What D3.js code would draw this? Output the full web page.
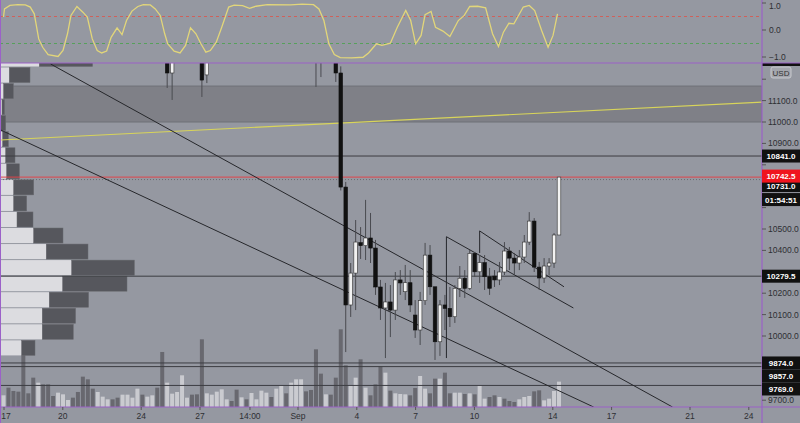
<!DOCTYPE html>
<html><head><meta charset="utf-8">
<script src="https://cdn.jsdelivr.net/npm/d3@7"></script>
<style>body{margin:0;background:#9598a1}svg{display:block;font-family:"Liberation Sans",Arial,sans-serif}</style>
</head><body><svg id="c" width="800" height="423"></svg>
<script>
// ---------- DATA ----------
const candleIdx = [33,34,40,41,63,64,67,68,69,70,71,72,73,74,75,76,77,78,79,80,81,82,83,84,85,86,87,88,89,90,91,92,93,94,95,96,97,98,99,100,101,102,103,104,105,106,107,108,109,110,111,112];
const candleOpen  = [11400,11229,11400,11220,11400,11400,11400,11229,10696,10145,10294,10436,10422,10458,10411,10229,10131,10159,10121,10262,10207,10249,10098,10028,10165,10378,10230,9973,10145,10129,10090,10223,10270,10223,10386,10300,10343,10277,10280,10262,10299,10397,10364,10341,10369,10439,10537,10322,10271,10327,10341,10472];
const candleClose = [11229,11400,11196,11400,11350,11350,11229,10696,10145,10294,10439,10422,10458,10411,10229,10131,10159,10121,10262,10248,10249,10145,10028,10165,10378,10230,9973,10145,10129,10090,10223,10270,10223,10386,10300,10343,10277,10223,10262,10299,10397,10364,10341,10369,10439,10537,10322,10271,10327,10341,10472,10742.5];
const candleHigh  = [11450,11450,11450,11450,11450,11450,11450,11260,10720,10341,10542,10509,10636,10575,10449,10262,10248,10238,10299,10308,10332,10308,10168,10206,10435,10425,10215,10168,10192,10229,10238,10327,10308,10402,10393,10378,10378,10318,10308,10346,10439,10416,10388,10402,10472,10579,10551,10346,10364,10364,10481,10743];
const candleLow   = [11159,11103,11117,11182,11164,11210,11187,10680,9925,10089,10121,10360,10355,10341,10192,10075,9897,9995,10075,10192,10168,10112,9991,9958,10145,10192,9888,9907,10028,10042,10061,10182,10178,10215,10276,10248,10215,10192,10229,10238,10285,10308,10285,10308,10341,10425,10299,10215,10248,10285,10318,10472];
const volTop = [198,175,185,187,75,192,145,160,165,165,200,190,195,212,205,188,142,150,178,188,202,210,210,205,196,196,205,178,196,202,198,175,68,160,193,188,138,205,196,195,30,192,196,187,180,210,215,181,204,210,191,210,184,190,203,178,170,192,160,150,150,186,182,60,133,195,196,145,0,108,168,145,90,175,198,165,112,130,184,192,194,195,198,176,140,178,192,148,148,130,192,190,190,194,192,195,170,208,203,198,203,208,215,218,210,203,200,186,183,213,208,185,157];
const volDir = "UDDDDDDUDDDUUUDDDDDUUUDDUUUUDUUDDUUUUUDDDUUUUUDDUDUUUUDUUDUUUDDDDUDDDDUUDUDDDUDUUUDDUUDDUDDUUDUDUUDDUDDDUUUDDUUUU";
const oscIdx = [0,0.2,1.3,2.9,4.4,5.4,6.2,7.1,7.9,9,11,12,12.9,13.6,14.8,16,16.9,17.9,18.9,19.8,20.8,21.7,22.9,23.9,24.8,25.9,27.1,28.2,29.6,30.6,31.6,32.5,33.1,34.4,35.6,36.7,37.7,38.8,39.8,40.8,41.7,42.9,44,45.4,46.5,48.2,49.6,50.9,53.2,57.9,60.2,62.5,63.6,64.6,65.6,66.7,67.9,70.2,72.5,73.6,75.2,76.3,78,79.4,81.1,82.1,83.1,84.2,85,86.2,87.1,88.6,90,91.7,92.9,94,95.6,97.2,98.6,99.8,100.8,101.9,102.9,104.8,106,107.1,108.5,109.8,110.8,111.7];
const oscVal = [0.48,0.78,0.91,0.94,0.93,0.85,0.6,-0.33,-0.64,-0.91,-0.98,-0.76,-0.14,0.54,0.87,0.66,0.48,-0.33,-0.76,-0.85,-0.78,-0.27,0.08,-0.17,0.35,0.7,0.87,0.94,0.93,0.78,0.54,-0.14,-0.51,-0.78,-0.85,-0.57,0.08,-0.14,-0.51,-0.82,-0.76,-0.45,0.1,0.85,0.92,0.9,0.8,0.88,0.94,0.93,0.96,0.94,0.78,0.35,-0.51,-0.91,-1.02,-1.03,-1.01,-0.85,-0.51,-0.57,-0.49,0.1,0.72,0.35,-0.51,-0.2,0.57,0.69,0.1,-0.04,-0.24,0.35,0.54,0.87,0.88,0.82,-0.14,-0.61,-0.08,0.25,0.23,0.85,0.91,0.72,-0.02,-0.64,-0.2,0.6];
const profLow = [9907,9982,10057,10132,10207,10282,10357,10432,10507,10582,10657,10732,10807,10882,10957,11032,11107,11182,11257];
const profUp  = [20.7,41.3,41.3,48.3,61.7,70.7,45.3,32.7,16,12.7,12.7,5.7,4.7,1.7,0,1,2.7,8.3,38.3];
const profDn  = [13.3,31,33.3,39.3,64.3,62.7,41.7,29.3,16,13,20,12.7,9.3,5.7,4.7,2.5,9.7,20.7,53.3];
const levels = [10841,10279.5,9874,9857,9769];
const levelLabels = ["10841.0","10279.5","9874.0","9857.0","9769.0"];
const lastPrice = 10742.5, prevClose = 10731, countdown = "01:54:51";
const zoneLow = 11000, zoneHigh = 11168;
const trendLines = [
 [[9.5,11271],[134.9,9668]],
 [[-0.6,10963],[119,9668]],
 [[89.3,10464],[114.9,10131]],
 [[89.3,10464],[89.3,9897]],
 [[96,10491],[113,10230]],
 [[96,10491],[96,10388]]
];
const yellowLine = [[-0.6,10916],[153,11093]];
const priceTicks = [11200,11100,11000,10900,10800,10700,10600,10500,10400,10300,10200,10100,10000,9900,9800,9700];
const oscTicks = [1,0,-1];
const dayTickPos = [0,3,7,10,12.55,15,18,21,24,28,31,35,38];
const dayTickLab = ["17","20","24","27","14:00","Sep","4","7","10","14","17","21","24"];

// ---------- SCALES ----------
const svg = d3.select("#c");
const W = 762, pTop = 63, pBot = 407;
const x = d3.scaleLinear().domain([0,112]).range([3.5,559]);
const xDay = d3.scaleLinear().domain([0,38]).range([4,748.8]);
const y = d3.scaleLinear().domain([11000,9700]).range([122,400.2]);
const yo = d3.scaleLinear().domain([1,-1]).range([3,57]);
const yv = d3.scaleLinear().domain([0,233]).range([pBot,pBot-77.7]);
const xp = d3.scaleLinear().domain([0,100]).range([1,101]);

svg.append("rect").attr("width",800).attr("height",423).attr("fill","#9598a1");
svg.append("clipPath").attr("id","pc").append("rect").attr("x",0).attr("y",pTop).attr("width",W).attr("height",pBot-pTop);
svg.append("clipPath").attr("id","oc").append("rect").attr("x",0).attr("y",0).attr("width",W).attr("height",pTop);

const og = svg.append("g").attr("clip-path","url(#oc)");
og.append("line").attr("x1",0).attr("x2",W).attr("y1",yo(0.5)).attr("y2",yo(0.5)).attr("stroke","#d0605a").attr("stroke-dasharray","3,3");
og.append("line").attr("x1",0).attr("x2",W).attr("y1",yo(-0.5)).attr("y2",yo(-0.5)).attr("stroke","#56a05a").attr("stroke-dasharray","3,3");
og.append("path").attr("d",d3.line().x((d,i)=>x(oscIdx[i])).y(d=>yo(d))(oscVal)).attr("fill","none").attr("stroke","#e2d67a").attr("stroke-width",1.3);

const pg = svg.append("g").attr("clip-path","url(#pc)");
pg.append("rect").attr("x",0).attr("width",W).attr("y",y(zoneHigh)).attr("height",y(zoneLow)-y(zoneHigh)).attr("fill","#7f8087").attr("stroke","#6f7077");
pg.selectAll(".v").data(volTop).join("rect").attr("x",(d,i)=>x(i)-2).attr("width",4)
 .attr("y",d=>yv(233-d)).attr("height",d=>pBot-yv(233-d))
 .attr("fill",(d,i)=>volDir[i]==="U"?"#d4d4d8":"#5c5d63").attr("opacity",(d,i)=>volDir[i]==="U"?0.85:0.8);
pg.selectAll(".pu").data(profUp).join("rect").attr("x",1).attr("y",(d,i)=>y(profLow[i]+75)+0.5)
 .attr("width",d=>xp(d)-1).attr("height",(d,i)=>y(profLow[i])-y(profLow[i]+75)-1).attr("fill","#dcdce0");
pg.selectAll(".pd").data(profDn).join("rect").attr("x",(d,i)=>xp(profUp[i])).attr("y",(d,i)=>y(profLow[i]+75)+0.5)
 .attr("width",d=>xp(d)-1).attr("height",(d,i)=>y(profLow[i])-y(profLow[i]+75)-1).attr("fill","#56575d").attr("stroke","#6a6b70").attr("stroke-width",0.5);
levels.forEach(l=>pg.append("line").attr("x1",0).attr("x2",W).attr("y1",y(l)).attr("y2",y(l)).attr("stroke","#3c3d42").attr("stroke-width",1));
pg.append("line").attr("x1",0).attr("x2",W).attr("y1",y(prevClose)).attr("y2",y(prevClose)).attr("stroke","#6a6b70").attr("stroke-dasharray","1,2");
pg.append("line").attr("x1",0).attr("x2",W).attr("y1",y(lastPrice)).attr("y2",y(lastPrice)).attr("stroke","#e0454a").attr("stroke-width",1);
pg.append("line").attr("x1",x(yellowLine[0][0])).attr("y1",y(yellowLine[0][1])).attr("x2",x(yellowLine[1][0])).attr("y2",y(yellowLine[1][1])).attr("stroke","#d8d45a").attr("stroke-width",1.2);
trendLines.forEach(t=>pg.append("line").attr("x1",x(t[0][0])).attr("y1",y(t[0][1])).attr("x2",x(t[1][0])).attr("y2",y(t[1][1])).attr("stroke","#26272b").attr("stroke-width",1));
const cg = pg.append("g");
candleIdx.forEach((ix,i)=>{
  const o=candleOpen[i], c=candleClose[i], up=c>=o;
  cg.append("line").attr("x1",x(ix)).attr("x2",x(ix)).attr("y1",y(candleHigh[i])).attr("y2",y(candleLow[i])).attr("stroke","#4a4b50").attr("stroke-width",1);
  cg.append("rect").attr("x",x(ix)-1.8).attr("width",3.6).attr("y",y(Math.max(o,c))).attr("height",Math.max(1,Math.abs(y(o)-y(c))))
    .attr("fill",up?"#f2f2f2":"#111").attr("stroke",up?"#333":"#111").attr("stroke-width",0.6);
});

svg.append("rect").attr("x",W).attr("y",pTop).attr("width",38).attr("height",3).attr("fill","#111");
svg.append("line").attr("x1",0).attr("x2",800).attr("y1",pTop).attr("y2",pTop).attr("stroke","#9b61c8").attr("stroke-width",1.2);
svg.append("line").attr("x1",0).attr("x2",800).attr("y1",pBot).attr("y2",pBot).attr("stroke","#9b61c8").attr("stroke-width",1.2);
svg.append("line").attr("x1",W).attr("x2",W).attr("y1",0).attr("y2",423).attr("stroke","#9b61c8").attr("stroke-width",1.2);
svg.append("line").attr("x1",0.5).attr("x2",0.5).attr("y1",0).attr("y2",423).attr("stroke","#9b61c8").attr("stroke-width",1);

const boxYs = levels.map(l=>y(l)).concat([y(prevClose)+6,y(lastPrice),y(prevClose)+20,72]);
const ax = svg.append("g").attr("font-size",8.5).attr("fill","#2e2f33");
oscTicks.forEach(t=>{
  ax.append("line").attr("x1",W).attr("x2",W+4).attr("y1",yo(t)).attr("y2",yo(t)).attr("stroke","#555");
  ax.append("text").attr("x",W+7).attr("y",Math.max(yo(t)+3,9)).text(d3.format(".1f")(t).replace("-","−"));
});
priceTicks.forEach(t=>{
  if (y(t) < pTop+4) return;
  ax.append("line").attr("x1",W).attr("x2",W+4).attr("y1",y(t)).attr("y2",y(t)).attr("stroke","#555");
  if (boxYs.some(b=>Math.abs(b-y(t))<11)) return;
  ax.append("text").attr("x",W+6).attr("y",y(t)+3).text(d3.format(".1f")(t));
});
dayTickPos.forEach((d,i)=>{
  ax.append("line").attr("x1",xDay(d)).attr("x2",xDay(d)).attr("y1",pBot).attr("y2",pBot+3).attr("stroke","#555");
  ax.append("text").attr("x",Math.max(xDay(d),6)).attr("y",419).attr("text-anchor","middle").text(dayTickLab[i]);
});
svg.append("rect").attr("x",771).attr("y",67).attr("width",20).attr("height",11).attr("rx",2).attr("fill","#a4a6ad").attr("stroke","#c8c9ce");
svg.append("text").attr("x",781).attr("y",75.5).attr("text-anchor","middle").attr("font-size",8).attr("fill","#333").text("USD");
function box(yy,txt,fill){
  svg.append("rect").attr("x",W).attr("y",yy-6.5).attr("width",38).attr("height",13).attr("fill",fill);
  svg.append("text").attr("x",W+19).attr("y",yy+3.2).attr("text-anchor","middle").attr("font-size",8).attr("font-weight","bold").attr("fill","#fff").text(txt);
}
const lv = levels.map((l,i)=>({yy:y(l),t:levelLabels[i]})).sort((a,b)=>a.yy-b.yy);
for(let i=1;i<lv.length;i++) if(lv[i].yy-lv[i-1].yy<13) lv[i].yy=lv[i-1].yy+13;
lv.forEach(d=>box(d.yy,d.t,"#111"));
box(y(prevClose)+6,d3.format(".1f")(prevClose),"#111");
box(y(prevClose)+20,countdown,"#111");
box(y(lastPrice)-1,d3.format(".1f")(lastPrice),"#f0141e");
</script></body></html>
